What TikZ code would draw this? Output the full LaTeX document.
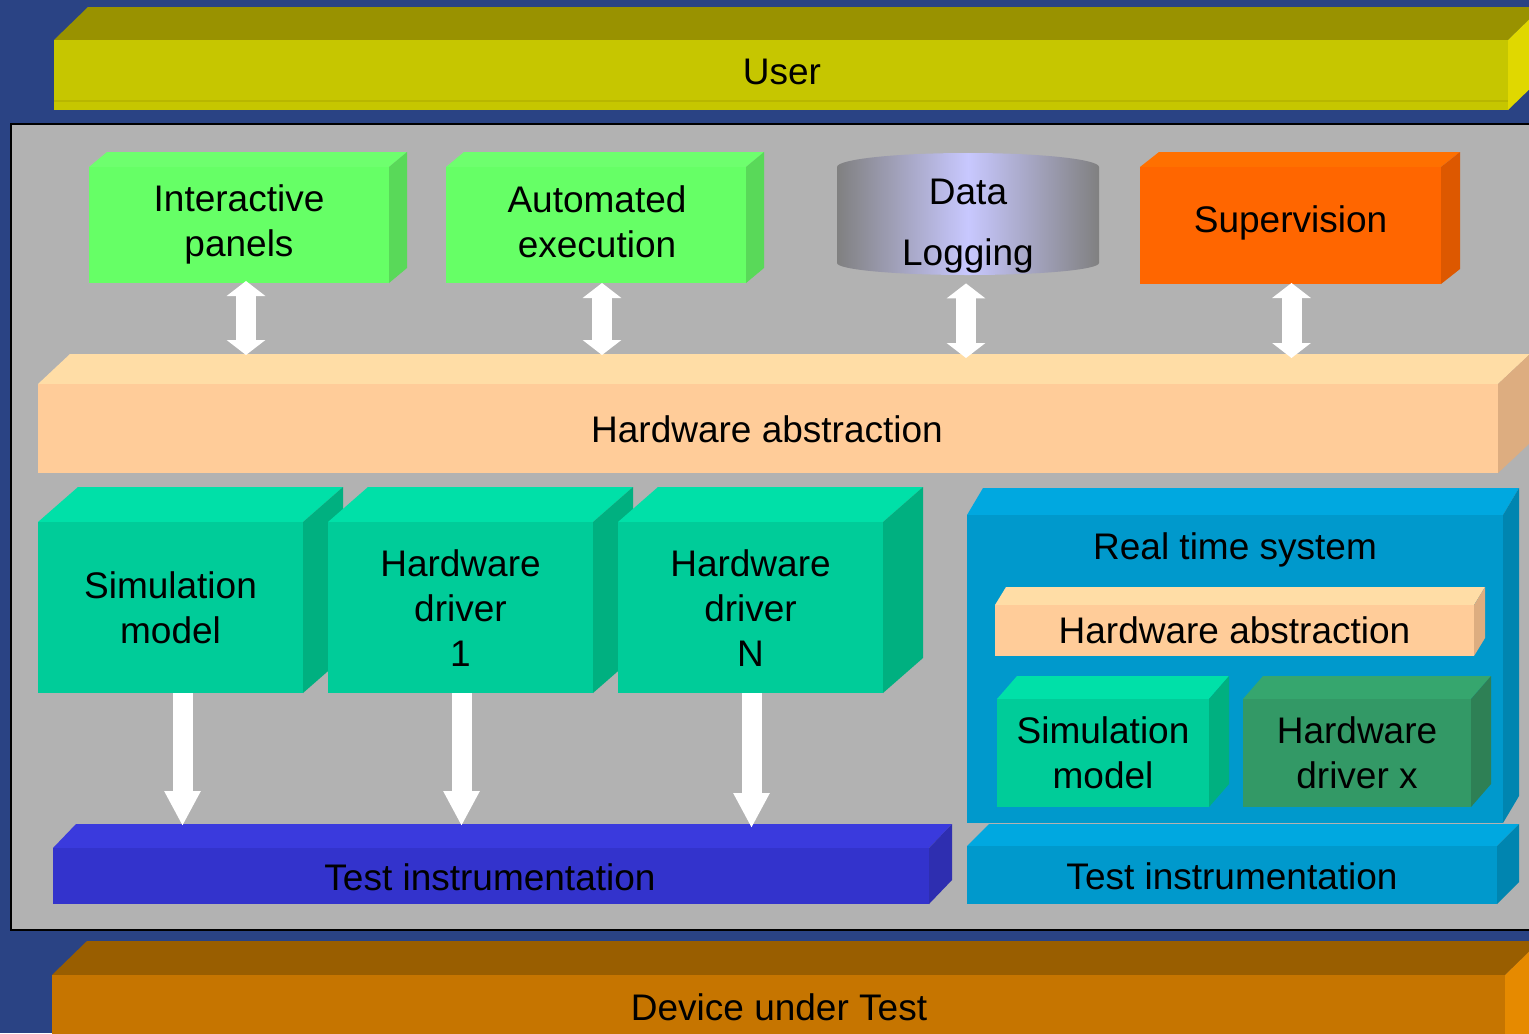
\documentclass[tikz,border=0pt]{standalone}
\usepackage{fontspec}
\setmainfont{Liberation Sans}
\usetikzlibrary{arrows.meta,calc,fit}
\definecolor{bg}{RGB}{42,67,132}
\definecolor{panel}{RGB}{178,178,178}
\definecolor{usrT}{RGB}{153,146,0}
\definecolor{usrF}{RGB}{198,198,0}
\definecolor{usrS}{RGB}{224,216,0}
\definecolor{usrL}{RGB}{184,182,0}
\definecolor{grnT}{RGB}{110,255,110}
\definecolor{grnF}{RGB}{102,255,102}
\definecolor{grnS}{RGB}{89,217,89}
\definecolor{orgT}{RGB}{255,112,0}
\definecolor{orgF}{RGB}{255,102,0}
\definecolor{orgS}{RGB}{221,88,0}
\definecolor{haT}{RGB}{255,221,166}
\definecolor{haF}{RGB}{255,204,153}
\definecolor{haS}{RGB}{221,173,128}
\definecolor{tlT}{RGB}{0,224,168}
\definecolor{tlF}{RGB}{0,204,153}
\definecolor{tlS}{RGB}{0,176,128}
\definecolor{bluT}{RGB}{58,58,221}
\definecolor{bluF}{RGB}{51,51,204}
\definecolor{bluS}{RGB}{46,46,176}
\definecolor{rtsT}{RGB}{0,168,224}
\definecolor{rtsF}{RGB}{0,153,204}
\definecolor{rtsS}{RGB}{0,133,176}
\definecolor{hdxT}{RGB}{54,166,110}
\definecolor{hdxF}{RGB}{51,153,102}
\definecolor{hdxS}{RGB}{46,128,85}
\definecolor{dutT}{RGB}{153,94,0}
\definecolor{dutF}{RGB}{198,117,0}
\definecolor{dutS}{RGB}{230,138,0}
\definecolor{cylG}{RGB}{128,128,128}
\definecolor{cylL}{RGB}{200,200,255}
% #1 name, #2 x1, #3 y1, #4 x2, #5 y2, #6 dx, #7 dy, #8 colour prefix
\newcommand\slab[8]{%
  \fill[#8T] (#2,#3) -- (#2+#6,#3-#7) -- (#4+#6,#3-#7) -- (#4,#3) -- cycle;
  \fill[#8S] (#4,#3) -- (#4+#6,#3-#7) -- (#4+#6,#5-#7) -- (#4,#5) -- cycle;
  \node[fit={(#2,#3) (#4,#5)}, inner sep=0pt, outer sep=0pt, fill=#8F] (#1) {};
  \coordinate (#1-tt) at ({(#2+#4)/2+#6},{#3-#7});
}
\begin{document}
\begin{tikzpicture}[x=0.5pt,y=-0.5pt,
  txt/.style={font=\fontsize{18.5}{22.5}\selectfont, align=center, inner sep=0pt},
  dbl/.style={white, line width=10pt, {Triangle[width=19pt,length=7.5pt]}-{Triangle[width=19pt,length=7.5pt]}},
  down/.style={white, line width=10pt, -{Triangle[width=17pt,length=17.5pt]}}]
\useasboundingbox (0,0) rectangle (1529,1033);
\clip (0,0) rectangle (1529,1033);
\fill[bg] (0,0) rectangle (1529,1033);
% User
\slab{user}{54}{40}{1508}{110}{34}{33}{usr}
\draw[usrL, line width=1pt] (54,101) -- (1508,101);
\node[txt] (usert) at ($(user)+(1,-3)$) {User};
% panel
\draw[black, line width=1.25pt, fill=panel] (11,124) rectangle (1545,930);
% top row
\slab{ip}{89}{167}{389}{283}{18}{15}{grn}
\node[txt] (ipt) at ($(ip)+(0,-1)$) {Interactive\\panels};
\slab{ae}{446}{167}{746}{283}{18}{15}{grn}
\node[txt] (aet) at ($(ae)+(1,-3)$) {Automated\\execution};
\shade[left color=cylG, right color=cylG, middle color=cylL]
  (837,167) arc[start angle=180,end angle=360,x radius=131,y radius=14]
  -- (1099,263) arc[start angle=0,end angle=180,x radius=131,y radius=12] -- cycle;
\node[fit={(837,153) (1099,275)}, inner sep=0pt] (dl) {};
\node[txt] (dlt) at (968,226) {Data\\[8pt]Logging};
\slab{sup}{1140}{167}{1441}{284}{19}{15}{org}
\node[txt] (supt) at ($(sup)+(0,-3)$) {Supervision};
% hardware abstraction
\slab{ha}{38}{384}{1498}{473}{32}{30}{ha}
\node[txt] (hat) at ($(ha)+(-1,1)$) {Hardware abstraction};
\draw[dbl] ($(ip.south)+(7,-2)$) -- ($(ip.south |- ha-tt)+(7,1)$);
\draw[dbl] ($(ae.south)+(6,0)$) -- ($(ae.south |- ha-tt)+(6,1)$);
\draw[dbl] ($(dl.south)+(-2,8)$) -- ($(dl.south |- ha-tt)+(-2,4)$);
\draw[dbl] ($(sup.south)+(1,-1)$) -- ($(sup.south |- ha-tt)+(1,4)$);
% teal boxes
\slab{sm}{38}{522}{303}{693}{40}{35}{tl}
\node[txt] (smt) at (sm) {Simulation\\model};
\slab{hd1}{328}{522}{593}{693}{40}{35}{tl}
\node[txt] (hd1t) at ($(hd1)+(0,1)$) {Hardware\\driver\\1};
\slab{hdn}{618}{522}{883}{693}{40}{35}{tl}
\node[txt] (hdnt) at ($(hdn)+(0,1)$) {Hardware\\driver\\N};
% test instrumentation left
\slab{til}{53}{848}{929}{904}{23}{24}{blu}
\node[txt] (tilt) at ($(til)+(-1,1)$) {Test instrumentation};
\draw[down] ($(sm.south)+(12,0)$) -- ($(sm.south |- til-tt)+(12,2)$);
\draw[down] ($(hd1.south)+(1,0)$) -- ($(hd1.south |- til-tt)+(1,2)$);
\draw[down] ($(hdn.south)+(1,0)$) -- ($(hdn.south |- til-tt)+(1,4)$);
% real time system
\slab{rts}{967}{515}{1503}{823}{16}{27}{rts}
\node[txt] (rtst) at (1235,550) {Real time system};
\slab{iha}{995}{605}{1474}{656}{11}{18}{ha}
\node[txt] (ihat) at (iha) {Hardware abstraction};
\slab{ism}{997}{699}{1209}{807}{20}{23}{tl}
\node[txt] (ismt) at (ism) {Simulation\\model};
\slab{ihx}{1243}{699}{1471}{807}{20}{23}{hdx}
\node[txt] (ihxt) at (ihx) {Hardware\\driver x};
\slab{tir}{967}{846}{1497}{904}{22}{22}{rts}
\node[txt] (tirt) at ($(tir)+(0,1)$) {Test instrumentation};
% device under test
\slab{dut}{52}{975}{1505}{1060}{35}{34}{dut}
\node[txt] (dutt) at (779,1007) {Device under Test};
\end{tikzpicture}
\end{document}
